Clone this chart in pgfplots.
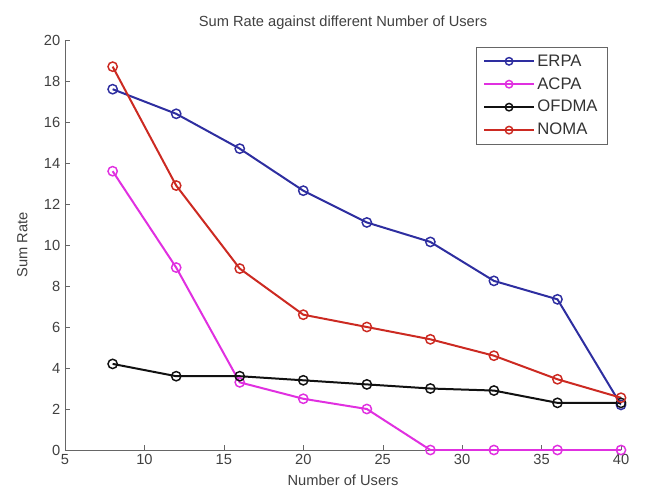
\documentclass[border=0pt]{standalone}
\usepackage{fontspec}
\setmainfont{Liberation Sans}
\usepackage{pgfplots}
\pgfplotsset{compat=1.18}
\definecolor{erpa}{HTML}{2E2EA0}
\definecolor{acpa}{HTML}{E030E0}
\definecolor{ofdma}{HTML}{111111}
\definecolor{noma}{HTML}{CC2A22}
\begin{document}
\begin{tikzpicture}
\useasboundingbox (-48.75pt,-32.25pt) rectangle (440.25pt,337.5pt);
\begin{axis}[
  scale only axis,
  width=417pt, height=307.5pt,
  xmin=5, xmax=40, ymin=0, ymax=20,
  xtick={5,10,...,40}, ytick={0,2,...,20},
  axis x line*=bottom, axis y line*=left,
  axis line style={draw=black!60, line width=0.6pt},
  tick style={draw=black!60},
  tick align=inside,
  major tick length=4pt,
  every tick label/.append style={font=\fontsize{11}{13}\selectfont, text=black!75},
  /pgf/number format/assume math mode=true,
  xlabel={Number of Users}, ylabel={Sum Rate},
  label style={font=\fontsize{11}{13}\selectfont, text=black!75},
  xlabel style={at={(axis description cs:0.5,0)}, anchor=center, yshift=-23pt},
  ylabel style={at={(axis description cs:0,0.5)}, anchor=center, yshift=32pt},
  title={Sum Rate against different Number of Users},
  title style={font=\fontsize{11}{13}\selectfont, text=black!75, at={(axis description cs:0.5,1)}, anchor=south, yshift=-1.5pt},
  legend style={at={(axis cs:39.17,19.66)}, anchor=north east, draw=black!60, font=\fontsize{12.5}{18}\selectfont, text=black!80, inner xsep=5.5pt, inner ysep=3.5pt, row sep=3pt},
  legend cell align=left,
  legend image code/.code={\draw[#1] (0cm,0cm) -- (1.3cm,0cm); \draw[#1, mark size=2.8pt, mark repeat=1] plot coordinates {(0.65cm,0cm)};},
  every axis plot/.append style={line width=1.5pt, mark=o, mark size=3.5pt, mark options={line width=1.1pt}},
]
\addplot[color=erpa] coordinates {(8,17.6) (12,16.4) (16,14.7) (20,12.65) (24,11.1) (28,10.15) (32,8.25) (36,7.35) (40,2.2)};
\addlegendentry{ERPA}
\addplot[color=acpa] coordinates {(8,13.6) (12,8.9) (16,3.3) (20,2.5) (24,2.0) (28,0) (32,0) (36,0) (40,0)};
\addlegendentry{ACPA}
\addplot[color=ofdma] coordinates {(8,4.2) (12,3.6) (16,3.6) (20,3.4) (24,3.2) (28,3.0) (32,2.9) (36,2.3) (40,2.3)};
\addlegendentry{OFDMA}
\addplot[color=noma] coordinates {(8,18.7) (12,12.9) (16,8.85) (20,6.6) (24,6.0) (28,5.4) (32,4.6) (36,3.45) (40,2.55)};
\addlegendentry{NOMA}
\end{axis}
\end{tikzpicture}
\end{document}
